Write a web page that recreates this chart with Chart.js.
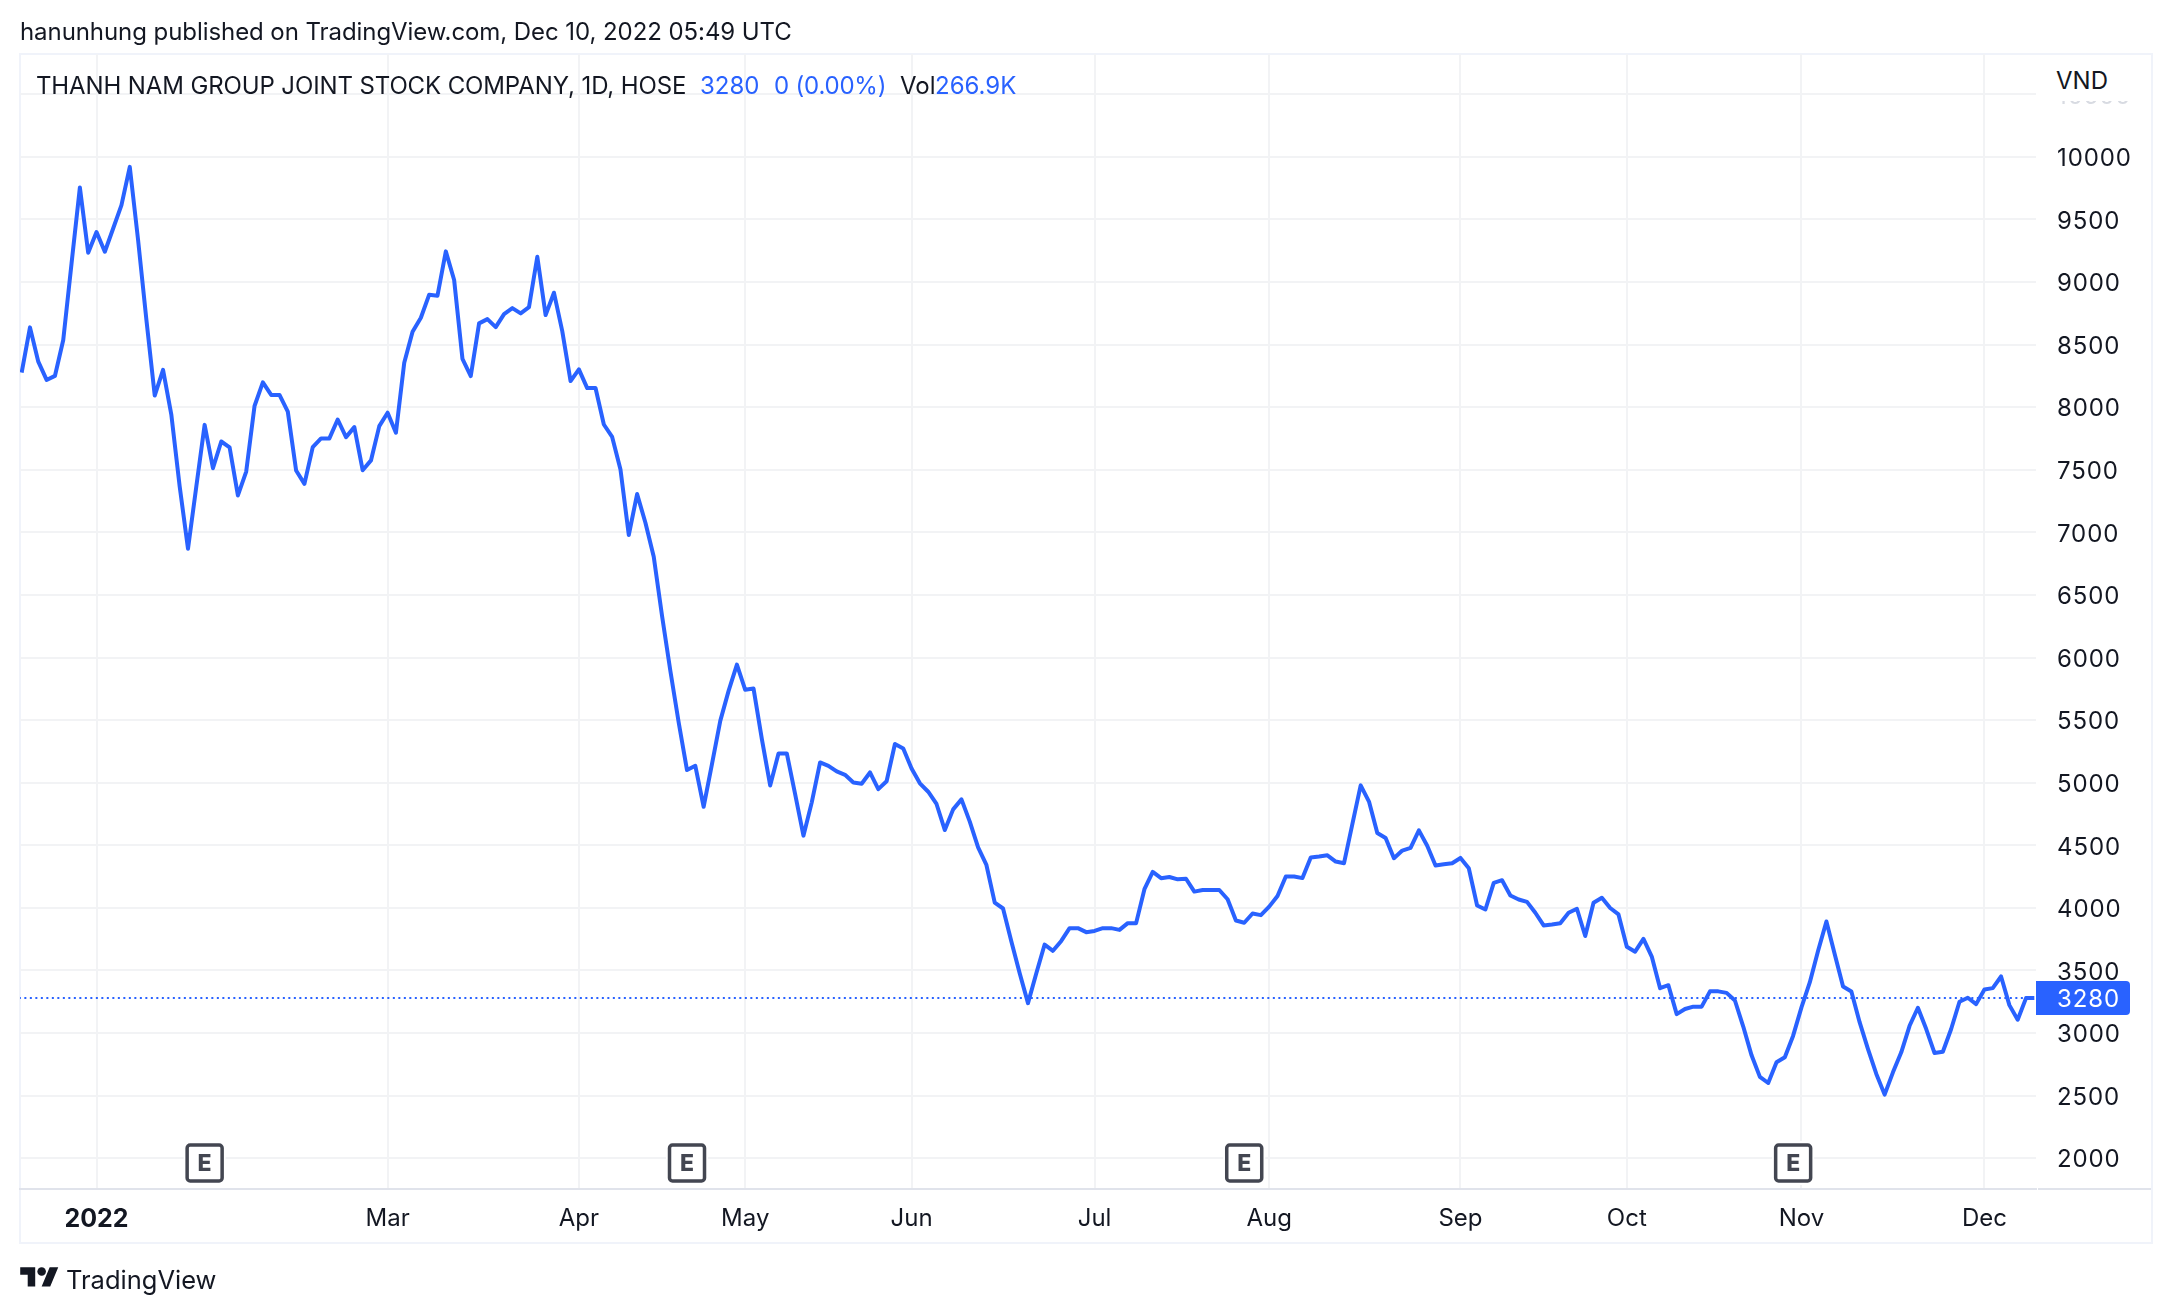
<!DOCTYPE html>
<html>
<head>
<meta charset="utf-8">
<title>THANH NAM GROUP JOINT STOCK COMPANY</title>
<script src="https://cdn.jsdelivr.net/npm/chart.js@4"></script>
<style>
  html, body { margin: 0; padding: 0; background: #fff; }
  body { width: 2172px; height: 1314px; position: relative; overflow: hidden; font-family: Inter, sans-serif; color: #131722; }
  canvas { position: absolute; left: 0; top: 0; }
  .txt { position: absolute; font-size: 24px; line-height: 30px; white-space: nowrap; }
  .blue { color: #2962ff; }
</style>
</head>
<body>
<canvas id="priceChart" width="2172" height="1314"></canvas>
<div class="txt" style="left:20px;top:17px;letter-spacing:-0.07px">hanunhung published on TradingView.com, Dec 10, 2022 05:49 UTC</div>
<div class="txt" style="left:36px;top:71px;letter-spacing:-0.12px">THANH NAM GROUP JOINT STOCK COMPANY, 1D, HOSE</div>
<div class="txt blue" style="left:700px;top:71px">3280</div>
<div class="txt blue" style="left:774px;top:71px;letter-spacing:-0.2px">0 (0.00%)</div>
<div class="txt" style="left:900px;top:71px">Vol</div>
<div class="txt blue" style="left:935px;top:71px">266.9K</div>
<div class="txt" style="left:2040px;top:56px;width:110px;height:45px;background:#fff;line-height:50px;text-indent:16px">VND</div>
<svg style="position:absolute;left:20px;top:1263px" width="39" height="30" viewBox="0 0 36 28"><path fill="#131722" d="M14 22H7V11H0V4h14v18zM28 22h-8l7.5-18h8L28 22z"/><circle fill="#131722" cx="20" cy="8" r="4"/></svg>
<div class="txt" style="left:66px;top:1265px;font-size:25.5px">TradingView</div>
<script>
const prices = [
  8277, 8638, 8364, 8218, 8250, 8537, 9150, 9755, 9234, 9400, 9242, 9428, 9614, 9920, 9335,
  8697, 8093, 8298, 7938, 7367, 6869, 7367, 7859, 7513, 7726, 7680, 7295, 7486, 8010, 8199,
  8098, 8098, 7965, 7494, 7388, 7681, 7751, 7751, 7902, 7761, 7841, 7497, 7575, 7849, 7956,
  7796, 8355, 8603, 8715, 8899, 8891, 9245, 9016, 8387, 8249, 8670, 8704, 8640, 8744, 8792,
  8750, 8800, 9202, 8736, 8915, 8608, 8209, 8302, 8153, 8153, 7862, 7763, 7503, 6979, 7306,
  7077, 6806, 6332, 5893, 5481, 5101, 5135, 4808, 5148, 5494, 5734, 5944, 5742, 5752, 5348,
  4978, 5234, 5234, 4909, 4577, 4843, 5162, 5135, 5090, 5063, 5002, 4992, 5082, 4949, 5012,
  5309, 5274, 5114, 4995, 4928, 4830, 4622, 4787, 4867, 4689, 4484, 4343, 4042, 3995, 3731,
  3478, 3239, 3478, 3707, 3657, 3736, 3838, 3838, 3806, 3816, 3838, 3838, 3824, 3878, 3878,
  4149, 4287, 4237, 4247, 4228, 4233, 4130, 4143, 4143, 4143, 4069, 3899, 3881, 3955, 3942,
  4010, 4095, 4251, 4251, 4238, 4402, 4410, 4420, 4370, 4357, 4669, 4979, 4849, 4598, 4558,
  4397, 4458, 4479, 4619, 4497, 4339, 4349, 4357, 4399, 4317, 4019, 3987, 4200, 4221, 4099,
  4067, 4048, 3961, 3860, 3868, 3878, 3961, 3993, 3775, 4041, 4081, 3999, 3948, 3690, 3650,
  3752, 3611, 3358, 3382, 3151, 3192, 3211, 3211, 3333, 3333, 3321, 3260, 3052, 2822, 2650,
  2601, 2766, 2806, 2979, 3205, 3404, 3657, 3891, 3630, 3372, 3332, 3085, 2872, 2673, 2508,
  2686, 2846, 3058, 3202, 3032, 2840, 2851, 3032, 3250, 3282, 3231, 3348, 3359, 3452, 3223,
  3106, 3279, 3280
];
const lastPrice = 3280;
const priceTicks = [2000, 2500, 3000, 3500, 4000, 4500, 5000, 5500, 6000, 6500, 7000, 7500, 8000, 8500, 9000, 9500, 10000, 10500];
const monthIdx = [9, 44, 67, 87, 107, 129, 150, 173, 193, 214, 236];
const monthLabels = ['2022', 'Mar', 'Apr', 'May', 'Jun', 'Jul', 'Aug', 'Sep', 'Oct', 'Nov', 'Dec'];
const earningsIdx = [22, 80, 147, 213];

const gridColor = '#f2f3f5';
const blue = '#2962ff';
const digitSpacing = '0.9px';

// frame round the whole chart, drawn under everything else
const framePlugin = {
  id: 'frame',
  beforeDraw(chart) {
    const c = chart.ctx;
    c.save();
    c.strokeStyle = '#f0f3fa';
    c.lineWidth = 2;
    c.strokeRect(20, 54, 2132, 1189);
    c.strokeStyle = '#e0e3eb';
    c.beginPath();
    c.moveTo(2038, 1189);
    c.lineTo(2151, 1189);
    c.stroke();
    c.restore();
  }
};

// the price axis digits are set a bit wider than the month labels
const spacingPlugin = {
  id: 'spacing',
  afterLayout(chart) {
    const s = chart.scales.y;
    if (s.spacingDone) return;
    const draw = s.drawLabels;
    s.drawLabels = function(area) {
      this.ctx.letterSpacing = digitSpacing;
      draw.call(this, area);
      this.ctx.letterSpacing = '0px';
    };
    s.spacingDone = true;
  }
};

// earnings badges and the last price label
const marksPlugin = {
  id: 'marks',
  afterDatasetsDraw(chart) {
    const c = chart.ctx;
    const x = chart.scales.x, y = chart.scales.y;
    c.save();
    earningsIdx.forEach(i => {
      const px = x.getPixelForValue(i);
      c.fillStyle = '#fff';
      c.fillRect(px - 21, 1141, 42, 44);
      c.beginPath();
      c.roundRect(px - 17.5, 1145, 35, 36, 3);
      c.strokeStyle = '#434651';
      c.lineWidth = 3.5;
      c.stroke();
      c.fillStyle = '#434651';
      c.font = '800 23px Inter';
      c.textAlign = 'center';
      c.textBaseline = 'middle';
      c.fillText('E', px, 1164);
    });
    const py = y.getPixelForValue(lastPrice);
    c.fillStyle = blue;
    c.beginPath();
    c.roundRect(2036, py - 17, 94, 34, [0, 4, 4, 0]);
    c.fill();
    c.fillStyle = '#fff';
    c.font = '24px Inter';
    c.letterSpacing = digitSpacing;
    c.textAlign = 'left';
    c.textBaseline = 'middle';
    c.fillText(String(lastPrice), 2057, py + 2);
    c.letterSpacing = '0px';
    c.restore();
  }
};

new Chart(document.getElementById('priceChart'), {
  type: 'line',
  data: {
    datasets: [
      {
        data: prices.map((p, i) => ({ x: i, y: p })),
        borderColor: blue,
        borderWidth: 4,
        borderJoinStyle: 'round',
        pointRadius: 0,
        tension: 0
      },
      {
        data: [{ x: -1, y: lastPrice }, { x: 243, y: lastPrice }],
        borderColor: blue,
        borderWidth: 2,
        borderDash: [2, 3.5],
        pointRadius: 0
      }
    ]
  },
  options: {
    responsive: false,
    animation: false,
    devicePixelRatio: 1,
    layout: { padding: { left: 20, top: 54, right: 20, bottom: 71 } },
    plugins: { legend: { display: false }, title: { display: false }, tooltip: { enabled: false } },
    scales: {
      x: {
        type: 'linear',
        min: -0.2,
        max: 242.2,
        grid: { color: gridColor, lineWidth: 2, drawTicks: false },
        border: { color: '#e0e3eb', width: 2 },
        afterBuildTicks(scale) { scale.ticks = monthIdx.map(v => ({ value: v })); },
        afterFit(scale) { scale.height = 54; },
        ticks: {
          autoSkip: false,
          maxRotation: 0,
          padding: 15,
          color: '#131722',
          font: ctx => (ctx.index === 0 ? { family: 'Inter', size: 25, weight: '700' } : { family: 'Inter', size: 24 }),
          callback: (v) => monthLabels[monthIdx.indexOf(v)]
        }
      },
      y: {
        type: 'linear',
        position: 'right',
        min: 1754,
        max: 10822,
        grid: { color: gridColor, lineWidth: 2, drawTicks: false },
        border: { display: false },
        afterBuildTicks(scale) { scale.ticks = priceTicks.map(v => ({ value: v })); },
        afterFit(scale) { scale.width = 116; },
        ticks: {
          padding: 21,
          crossAlign: 'near',
          labelOffset: 2,
          color: ctx => (ctx.tick.value === 10500 ? '#d8dbe2' : '#131722'),
          font: { family: 'Inter', size: 24 },
          callback: v => String(v)
        }
      }
    }
  },
  plugins: [framePlugin, spacingPlugin, marksPlugin]
});
</script>
</body>
</html>
